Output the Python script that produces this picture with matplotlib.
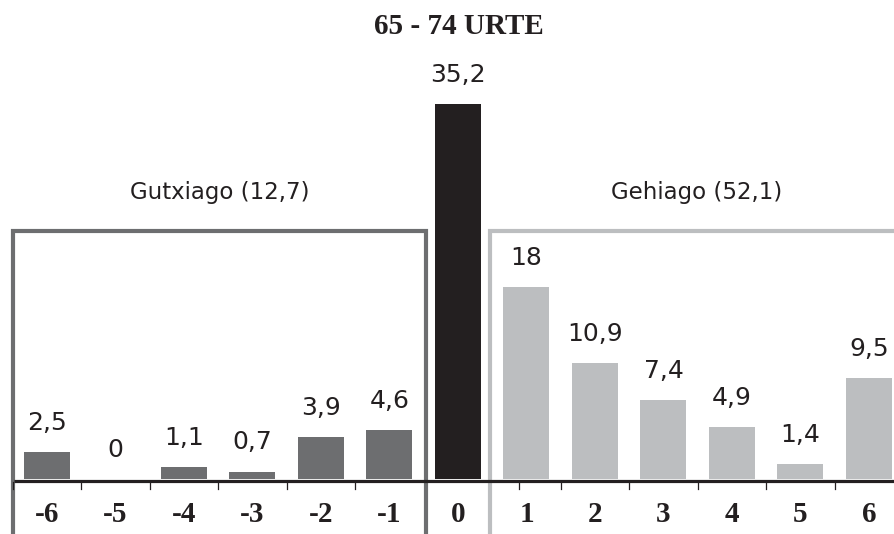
import matplotlib
matplotlib.use("Agg")
import matplotlib.pyplot as plt
from matplotlib.patches import Rectangle

# ---- data ----
title = "65 - 74 URTE"
cats_less = [-6, -5, -4, -3, -2, -1]
vals_less = [2.5, 0, 1.1, 0.7, 3.9, 4.6]
cat_same = [0]
val_same = [35.2]
cats_more = [1, 2, 3, 4, 5, 6]
vals_more = [18, 10.9, 7.4, 4.9, 1.4, 9.5]
group_less = "Gutxiago (12,7)"
group_more = "Gehiago (52,1)"

# ---- style ----
C_LESS = "#6d6e70"
C_SAME = "#231f20"
C_MORE = "#bcbec0"
W, H = 895, 534
PX_X = 68.5   # px per category
PX_Y = 10.65  # px per unit
X0 = 458      # px of category 0
Y0 = 479      # px of baseline

fig = plt.figure(figsize=(W / 100, H / 100), dpi=100)
ax = fig.add_axes([0, 0, 1, 1])
ax.axis("off")
ax.set_xlim(-X0 / PX_X, (W - X0) / PX_X)
ax.set_ylim(-(H - Y0) / PX_Y, Y0 / PX_Y)

bw = 46 / PX_X
ax.bar(cats_less, vals_less, width=bw, color=C_LESS, zorder=3)
ax.bar(cat_same, val_same, width=bw, color=C_SAME, zorder=3)
ax.bar(cats_more, vals_more, width=bw, color=C_MORE, zorder=3)

def fmt(v):
    s = f"{v:g}"
    return s.replace(".", ",")

sans = ["DejaVu Sans"]
for cats, vals in ((cats_less, vals_less), (cat_same, val_same), (cats_more, vals_more)):
    for c, v in zip(cats, vals):
        ax.annotate(fmt(v), (c, v), xytext=(0, 16), textcoords="offset points",
                    ha="center", va="baseline", fontsize=18, color="#231f20",
                    family=sans, zorder=5)

# group boxes
box_top = (Y0 - 231) / PX_Y
box_bot = -(H - Y0) / PX_Y - 1
inner = 0.467
left_edge = -6.5
ax.add_patch(Rectangle((left_edge, box_bot), -inner - left_edge, box_top - box_bot,
                       fill=False, edgecolor=C_LESS, lw=3, zorder=2, clip_on=False))
ax.add_patch(Rectangle((inner, box_bot), 7.5 - inner, box_top - box_bot,
                       fill=False, edgecolor=C_MORE, lw=3, zorder=2, clip_on=False))

ax.text((left_edge - inner) / 2, box_top + 32 / PX_Y, group_less, ha="center", va="baseline",
        fontsize=16.5, color="#231f20", family=sans)
ax.text((inner + 6.5) / 2, box_top + 32 / PX_Y, group_more, ha="center", va="baseline",
        fontsize=16.5, color="#231f20", family=sans)

# axis line
ax.plot([left_edge + 0.02, 7], [-1.5 / PX_Y, -1.5 / PX_Y], color="#231f20", lw=2.3,
        solid_capstyle="butt", zorder=4)
ticks = [-6.5, -5.5, -4.5, -3.5, -2.5, -1.5, 0.89, 1.5, 2.5, 3.5, 4.5, 5.5]
for t in ticks:
    ax.plot([t, t], [-3 / PX_Y, -10 / PX_Y], color="#231f20", lw=0.9, zorder=4)

# category labels
all_cats = cats_less + cat_same + cats_more
for c in all_cats:
    ax.text(c, -(522 - Y0) / PX_Y, str(c), ha="center", va="baseline",
            fontsize=21, fontweight="bold", family=["Liberation Serif"], color="#231f20")

fig.text(459 / W, 1 - 34 / H, title, ha="center", va="baseline", fontsize=21,
         fontweight="bold", family=["Liberation Serif"], color="#231f20")

fig.savefig("out.png", dpi=100, facecolor="white")
